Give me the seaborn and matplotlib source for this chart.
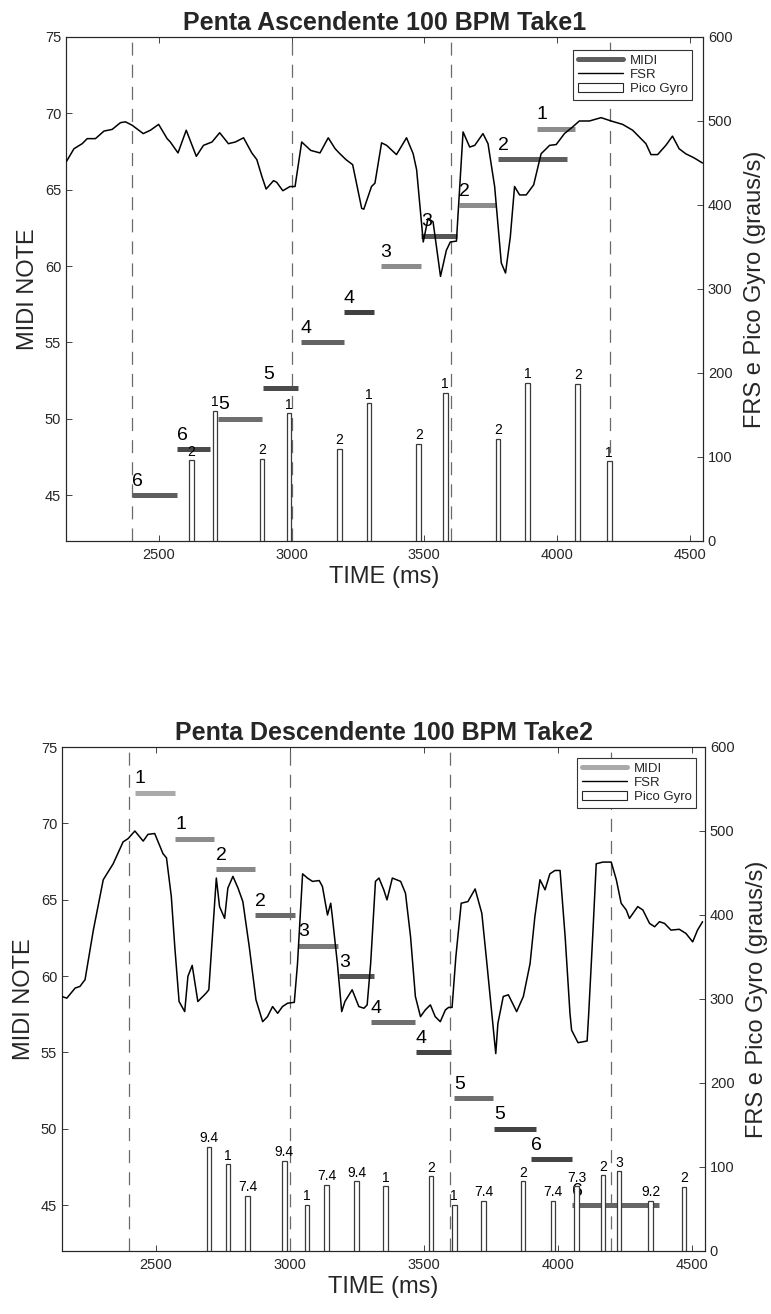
import numpy as np
import pandas as pd
import matplotlib
matplotlib.use("Agg")
import matplotlib.pyplot as plt
import seaborn as sns
from matplotlib.lines import Line2D
from matplotlib.patches import Patch

# ---------------- data: top chart (Penta Ascendente) ----------------
asc_midi_note = [45, 48, 50, 52, 55, 57, 60, 62, 64, 67, 69]
asc_midi_start = [2400, 2570, 2724, 2893, 3035, 3197, 3335, 3487, 3629, 3776, 3923]
asc_midi_end = [2570, 2694, 2889, 3024, 3197, 3310, 3487, 3622, 3769, 4039, 4066]
asc_midi_label = ["6", "6", "5", "5", "4", "4", "3", "3", "2", "2", "1"]

asc_fsr_t = [2152, 2180, 2211, 2230, 2261, 2293, 2324, 2355, 2374, 2399, 2441, 2468, 2499,
             2531, 2543, 2572, 2603, 2641, 2668, 2700, 2729, 2762, 2788, 2819, 2850, 2869,
             2888, 2904, 2932, 2944, 2967, 2994, 3013, 3038, 3072, 3107, 3138, 3164, 3182,
             3205, 3230, 3264, 3272, 3301, 3314, 3339, 3358, 3395, 3433, 3458, 3471, 3496,
             3514, 3533, 3561, 3583, 3598, 3621, 3646, 3671, 3690, 3721, 3740, 3765, 3790,
             3806, 3824, 3840, 3859, 3884, 3912, 3940, 3972, 3997, 4028, 4059, 4084, 4122,
             4166, 4204, 4247, 4285, 4335, 4354, 4379, 4410, 4435, 4460, 4485, 4517, 4548]
asc_fsr_v = [452, 467, 473, 479, 479, 488, 490, 498, 499, 495, 485, 489, 496,
             479, 475, 462, 489, 458, 471, 475, 486, 473, 475, 480, 462, 454,
             434, 419, 429, 427, 417, 422, 422, 475, 465, 462, 480, 467, 461,
             454, 448, 396, 395, 422, 426, 474, 471, 460, 480, 461, 442, 356,
             384, 380, 315, 346, 356, 357, 487, 469, 471, 485, 473, 422, 331,
             319, 362, 422, 412, 412, 424, 461, 471, 472, 485, 493, 500, 500,
             504, 500, 496, 489, 473, 460, 460, 471, 482, 467, 461, 456, 450]

asc_gyro_t = [2622, 2711, 2889, 2991, 3181, 3291, 3479, 3579, 3778, 3889, 4078, 4197]
asc_gyro_v = [96, 155, 98, 152, 110, 164, 116, 176, 122, 188, 187, 95]
asc_gyro_label = ["2", "1", "2", "1", "2", "1", "2", "1", "2", "1", "2", "1"]

# ---------------- data: bottom chart (Penta Descendente) ----------------
desc_midi_note = [72, 69, 67, 64, 62, 60, 57, 55, 52, 50, 48, 45]
desc_midi_start = [2422, 2573, 2725, 2872, 3032, 3184, 3302, 3471, 3614, 3762, 3900, 4052]
desc_midi_end = [2573, 2717, 2872, 3020, 3179, 3315, 3469, 3602, 3760, 3918, 4053, 4380]
desc_midi_label = ["1", "1", "2", "2", "3", "3", "4", "4", "5", "5", "6", "6"]

desc_fsr_t = [2149, 2168, 2199, 2217, 2236, 2267, 2304, 2341, 2378, 2397, 2422, 2453, 2471,
              2496, 2527, 2540, 2558, 2571, 2587, 2608, 2620, 2636, 2657, 2688, 2698, 2726,
              2738, 2757, 2769, 2788, 2807, 2825, 2849, 2874, 2899, 2917, 2936, 2955, 2973,
              2992, 3017, 3029, 3048, 3066, 3085, 3110, 3122, 3141, 3153, 3159, 3178, 3194,
              3206, 3233, 3258, 3277, 3289, 3302, 3320, 3333, 3351, 3363, 3383, 3414, 3432,
              3451, 3469, 3488, 3506, 3525, 3543, 3562, 3581, 3593, 3606, 3620, 3640, 3665,
              3692, 3717, 3736, 3769, 3777, 3797, 3816, 3847, 3872, 3897, 3915, 3934, 3953,
              3971, 3990, 4009, 4028, 4046, 4052, 4076, 4110, 4116, 4132, 4144, 4169, 4200,
              4219, 4237, 4256, 4268, 4299, 4318, 4343, 4362, 4380, 4399, 4423, 4454, 4479,
              4504, 4522, 4541]
desc_fsr_v = [303, 301, 313, 315, 323, 382, 442, 461, 487, 491, 500, 488, 496,
              497, 473, 468, 422, 362, 297, 285, 327, 340, 297, 307, 311, 444,
              410, 396, 432, 446, 432, 416, 362, 299, 273, 279, 291, 283, 291,
              295, 296, 342, 449, 444, 440, 441, 434, 400, 414, 398, 342, 285,
              297, 311, 291, 289, 293, 342, 440, 444, 430, 418, 444, 440, 426,
              374, 303, 279, 287, 293, 279, 273, 287, 290, 290, 350, 414, 416,
              431, 402, 342, 235, 271, 303, 305, 285, 303, 342, 398, 442, 430,
              449, 453, 453, 374, 283, 263, 248, 250, 283, 382, 461, 463, 463,
              442, 414, 406, 396, 410, 406, 390, 386, 392, 390, 382, 383, 378,
              368, 382, 392]

desc_gyro_t = [2698, 2770, 2843, 2980, 3065, 3137, 3250, 3358, 3528, 3614, 3723, 3870,
               3983, 4070, 4170, 4229, 4347, 4472]
desc_gyro_v = [124, 103, 66, 107, 55, 79, 83, 77, 89, 55, 60, 83, 60, 77, 90, 95, 60, 76]
desc_gyro_label = ["9.4", "1", "7.4", "9.4", "1", "7.4", "9.4", "1", "2", "1", "7.4", "2",
                   "7.4", "7.3", "2", "3", "9.2", "2"]

beat_lines = [2400, 3000, 3600, 4200]
x_ticks = [2500, 3000, 3500, 4000, 4500]
left_ticks = [45, 50, 55, 60, 65, 70, 75]
right_ticks = [0, 100, 200, 300, 400, 500, 600]

# ---------------- style ----------------
sns.set_theme(style="white")
plt.rcParams['font.family'] = ['Liberation Sans', 'DejaVu Sans']
plt.rcParams['lines.scale_dashes'] = False
plt.rcParams['axes.edgecolor'] = '#262626'
plt.rcParams['axes.linewidth'] = 0.8

asc_colors = ['#5e5e5e', '#4a4a4a', '#6e6e6e', '#4a4a4a', '#626262', '#404040',
              '#8c8c8c', '#555555', '#8c8c8c', '#5e5e5e', '#8c8c8c']
desc_colors = ['#aaaaaa', '#8c8c8c', '#888888', '#6a6a6a', '#7a7a7a', '#555555',
               '#6e6e6e', '#444444', '#6e6e6e', '#444444', '#444444', '#666666']

fig = plt.figure(figsize=(7.71, 13.14), dpi=100)
W, H = 771.0, 1314.0


def panel(rect, title, mnote, mstart, mend, mlabel, mcolors,
          ft, fv, gt, gv, glabel, leg_anchor):
    ax = fig.add_axes(rect)
    axr = ax.twinx()
    ax.set_xlim(2150, 4550)
    ax.set_ylim(42, 75)
    axr.set_ylim(0, 600)

    for b in beat_lines:
        ax.axvline(b, color='#6a6a6a', lw=0.9, ls=(0, (9.4, 6.5)), zorder=1)

    for n, s, e, lab, c in zip(mnote, mstart, mend, mlabel, mcolors):
        ax.hlines(n, s, e, colors=c, lw=3.6, capstyle='butt', zorder=3)
        ax.text(s, n + 0.35, lab, ha='left', va='bottom', fontsize=14,
                color='black', zorder=4)

    fsr = pd.DataFrame({'t': ft, 'v': fv})
    sns.lineplot(data=fsr, x='t', y='v', ax=axr, color='black', lw=1.1,
                 legend=False, zorder=5)

    axr.bar(gt, gv, width=17, color='white', edgecolor='#3a3a3a',
            linewidth=0.9, zorder=4)
    for t, v, lab in zip(gt, gv, glabel):
        axr.text(t, v + 2, lab, ha='center', va='bottom', fontsize=10,
                 color='black', zorder=6)

    ax.set_xticks(x_ticks)
    ax.set_yticks(left_ticks)
    axr.set_yticks(right_ticks)
    ax.tick_params(axis='x', which='both', direction='in', top=True, bottom=True,
                   length=4, width=0.6, color='#262626', labelsize=10.5, pad=5)
    ax.tick_params(axis='y', direction='in', left=True, right=False,
                   length=4, width=0.6, color='#262626', labelsize=10.5)
    axr.tick_params(axis='y', direction='in', right=True, left=False,
                    length=4, width=0.6, color='#262626', labelsize=10.5)
    ax.set_xlabel('TIME (ms)', fontsize=17, labelpad=3)
    ax.set_ylabel('MIDI NOTE', fontsize=17, labelpad=4)
    axr.set_ylabel('FRS e Pico Gyro (graus/s)', fontsize=17, labelpad=8)
    axr.set_xlabel('')
    ax.set_title(title, fontsize=18, fontweight='bold', pad=5)

    handles = [Line2D([0], [0], color=mcolors[0], lw=3.6),
               Line2D([0], [0], color='black', lw=1.0),
               Patch(facecolor='white', edgecolor='#262626', linewidth=0.8)]
    leg = axr.legend(handles, ['MIDI', 'FSR', 'Pico Gyro'], loc='upper right',
                     bbox_to_anchor=leg_anchor, borderaxespad=0, fontsize=9.5,
                     frameon=True, fancybox=False, framealpha=1,
                     edgecolor='#333333', handlelength=3.4, handletextpad=0.5,
                     labelspacing=0.15, borderpad=0.35)
    leg.get_frame().set_linewidth(0.8)
    leg.set_zorder(10)
    return ax, axr


panel([66 / W, 1 - 541 / H, 637 / W, 504 / H], 'Penta Ascendente 100 BPM Take1',
      asc_midi_note, asc_midi_start, asc_midi_end, asc_midi_label, asc_colors,
      asc_fsr_t, asc_fsr_v, asc_gyro_t, asc_gyro_v, asc_gyro_label,
      (1 - 11 / 637, 1 - 13 / 504))

panel([62 / W, 1 - 1251 / H, 643 / W, 504 / H], 'Penta Descendente 100 BPM Take2',
      desc_midi_note, desc_midi_start, desc_midi_end, desc_midi_label, desc_colors,
      desc_fsr_t, desc_fsr_v, desc_gyro_t, desc_gyro_v, desc_gyro_label,
      (1 - 9 / 643, 1 - 11 / 504))

fig.savefig('out.png', dpi=100, facecolor='white')
